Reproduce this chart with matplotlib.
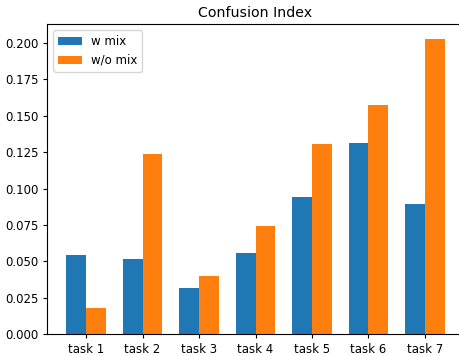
import numpy as np
import matplotlib
matplotlib.use('Agg')
import matplotlib.pyplot as plt

tasks = ['task 1', 'task 2', 'task 3', 'task 4', 'task 5', 'task 6', 'task 7']
w_mix = [0.0547, 0.0517, 0.0320, 0.0558, 0.0941, 0.1313, 0.0893]
wo_mix = [0.0178, 0.1238, 0.0402, 0.0744, 0.1307, 0.1572, 0.2027]

plt.rcParams['font.size'] = 8.5
plt.rcParams['xtick.major.size'] = 3.0
plt.rcParams['ytick.major.size'] = 3.0
plt.rcParams['xtick.major.pad'] = 3.0
plt.rcParams['ytick.major.pad'] = 3.0

fig = plt.figure(figsize=(4.59, 3.56), dpi=100)
ax = fig.add_axes([47.3 / 459, 21.7 / 356, 416.4 / 459, 310.0 / 356])

x = np.arange(len(tasks))
width = 0.35
ax.bar(x - width / 2, w_mix, width, label='w mix')
ax.bar(x + width / 2, wo_mix, width, label='w/o mix')

ax.set_xticks(x)
ax.set_xticklabels(tasks)
ax.set_title('Confusion Index', fontsize=10.2, pad=5)
ax.legend(loc='upper left')

plt.savefig('out.png', dpi=100)
